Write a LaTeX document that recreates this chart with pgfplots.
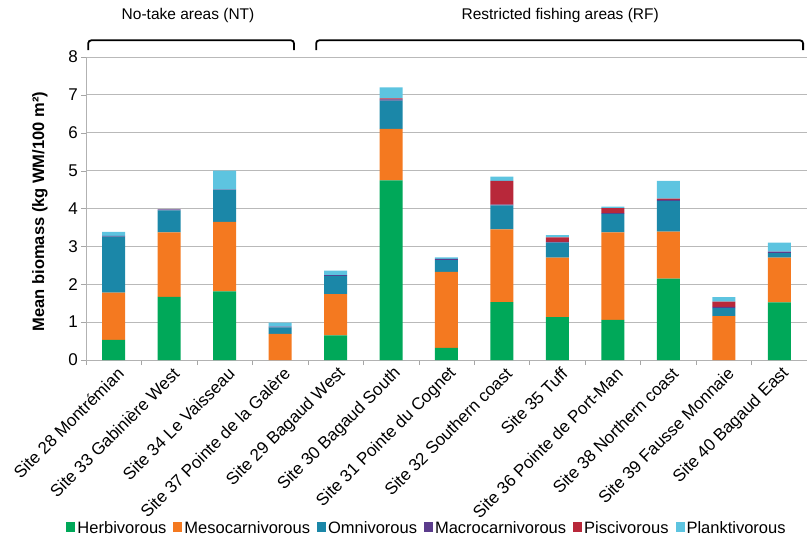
\documentclass[border=0pt]{standalone}
\usepackage{fontspec}
\setmainfont{Liberation Sans}
\usepackage{pgfplots}
\pgfplotsset{compat=1.18}
\definecolor{cHerb}{HTML}{00A859}
\definecolor{cMeso}{HTML}{F47920}
\definecolor{cOmni}{HTML}{1B87A8}
\definecolor{cMacro}{HTML}{5B3C8C}
\definecolor{cPisc}{HTML}{B8283A}
\definecolor{cPlank}{HTML}{5DC4E0}
\begin{document}
\begin{tikzpicture}
\begin{axis}[
  scale only axis, width=721pt, height=303pt,
  at={(0,0)}, anchor=south west,
  ybar stacked, bar width=23pt,
  xmin=-0.5, xmax=12.5, ymin=0, ymax=8,
  ytick={0,...,8},
  xtick={0,...,12},
  xticklabels={Site 28 Montrémian, Site 33 Gabinière West, Site 34 Le Vaisseau, Site 37 Pointe de la Galère, Site 29 Bagaud West, Site 30 Bagaud South, Site 31 Pointe du Cognet, Site 32 Southern coast, Site 35 Tuff, Site 36 Pointe de Port-Man, Site 38 Northern coast, Site 39 Fausse Monnaie, Site 40 Bagaud East},
  major x tick style={draw=none},
  minor xtick={-0.5,0.5,...,12.5},
  minor x tick style={draw=gray!70, thin},
  minor tick length=5pt,
  major tick length=5pt,
  tick align=outside,
  x tick label style={rotate=45, anchor=east, font=\fontsize{17}{20}\selectfont, inner sep=1pt, yshift=-9pt, xshift=2pt},
  y tick label style={font=\fontsize{17}{20}\selectfont, inner sep=3pt},
  ytick style={draw=gray!70},
  /pgf/number format/assume math mode=true,
  axis lines*=left,
  axis line style={gray!60, thin},
  ymajorgrids, grid style={gray!55, line width=0.8pt},
  ylabel={\textbf{Mean biomass (kg WM/100 m²)}},
  ylabel style={font=\fontsize{16.5}{19}\selectfont, at={(axis description cs:-0.064,0.49)}, anchor=center},
  clip=false,
  legend style={at={(0.473,-0.554)}, anchor=center, draw=none, legend columns=-1,
    font=\fontsize{16.5}{20}\selectfont, inner sep=0pt,
    /tikz/every even column/.append style={column sep=5pt}},
  legend image code/.code={\fill[#1] (0pt,-4pt) rectangle (9pt,6pt);},
]
\addplot[fill=cHerb, draw=none] coordinates {(0,0.53) (1,1.67) (2,1.81) (3,0) (4,0.65) (5,4.74) (6,0.32) (7,1.53) (8,1.13) (9,1.06) (10,2.15) (11,0) (12,1.52)};
\addplot[fill=cMeso, draw=none] coordinates {(0,1.25) (1,1.70) (2,1.84) (3,0.69) (4,1.09) (5,1.36) (6,2.01) (7,1.92) (8,1.57) (9,2.31) (10,1.24) (11,1.16) (12,1.18)};
\addplot[fill=cOmni, draw=none] coordinates {(0,1.48) (1,0.58) (2,0.84) (3,0.17) (4,0.48) (5,0.75) (6,0.31) (7,0.63) (8,0.40) (9,0.49) (10,0.81) (11,0.21) (12,0.12)};
\addplot[fill=cMacro, draw=none] coordinates {(0,0.02) (1,0.03) (2,0.01) (3,0.02) (4,0.02) (5,0.03) (6,0.03) (7,0.02) (8,0.02) (9,0.02) (10,0.03) (11,0.03) (12,0.04)};
\addplot[fill=cPisc, draw=none] coordinates {(0,0) (1,0) (2,0) (3,0) (4,0) (5,0.03) (6,0) (7,0.63) (8,0.12) (9,0.13) (10,0.03) (11,0.14) (12,0)};
\addplot[fill=cPlank, draw=none] coordinates {(0,0.10) (1,0) (2,0.50) (3,0.11) (4,0.12) (5,0.29) (6,0.04) (7,0.11) (8,0.06) (9,0.04) (10,0.47) (11,0.12) (12,0.24)};
\legend{Herbivorous, Mesocarnivorous, Omnivorous, Macrocarnivorous, Piscivorous, Planktivorous}
\draw[line width=1.8pt, rounded corners=3pt] (axis cs:-0.46,8.18) |- (axis cs:3.25,8.44) -- (axis cs:3.25,8.18);
\draw[line width=1.8pt, rounded corners=3pt] (axis cs:3.65,8.18) |- (axis cs:12.43,8.44) -- (axis cs:12.43,8.18);
\node[font=\fontsize{15.5}{18}\selectfont] at (axis cs:1.34,9.1) {No-take areas (NT)};
\node[font=\fontsize{15.5}{18}\selectfont] at (axis cs:8.05,9.1) {Restricted fishing areas (RF)};
\end{axis}
\pgfresetboundingbox
\path[use as bounding box] (-86pt,-182pt) rectangle (721pt,360pt);
\end{tikzpicture}
\end{document}
